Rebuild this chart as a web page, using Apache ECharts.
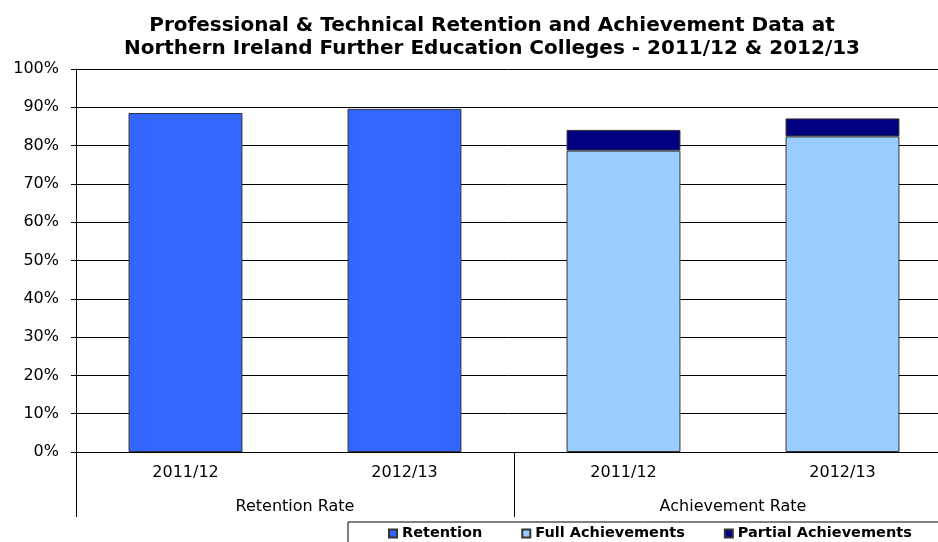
<!DOCTYPE html>
<html lang="en">
<head>
    <meta charset="UTF-8" />
    <title>Retention and Achievement</title>
    <script src="https://cdn.jsdelivr.net/npm/echarts@6/dist/echarts.min.js"></script>
    <style>
        html, body { margin: 0; padding: 0; background: #fff; }
    </style>
</head>
<body>
    <div id="main" style="width: 938px; height: 542px"></div>

    <script>
        // data
        var years = ["2011/12", "2012/13", "2011/12", "2012/13"];
        var groups = ["Retention Rate", "Achievement Rate"];
        var retention = [88.5, 89.6, null, null];
        var fullAch = [null, null, 78.7, 82.4];
        var partialAch = [null, null, 5.4, 4.7];

        var font = "DejaVu Sans";
        var mChart = echarts.init(document.querySelector("#main"));

        var option = {
            animation: false,
            title: {
                text: "Professional & Technical Retention and Achievement Data at\nNorthern Ireland Further Education Colleges - 2011/12 & 2012/13",
                left: 487,
                top: 9,
                textAlign: "center",
                textStyle: { fontFamily: font, fontSize: 20, fontWeight: "bold", color: "#000", lineHeight: 23 },
            },
            legend: {
                left: 348,
                top: 522,
                width: 620,
                padding: [4, 40, 10, 40],
                itemGap: 39,
                itemWidth: 8,
                itemHeight: 8,
                icon: "rect",
                borderColor: "#000",
                borderWidth: 1,
                textStyle: { fontFamily: font, fontSize: 14.5, fontWeight: "bold", color: "#000" },
                data: ["Retention", "Full Achievements", "Partial Achievements"],
            },
            grid: { left: 76, top: 69, width: 876, height: 383, outerBoundsMode: "none" },
            xAxis: [
                {
                    type: "category",
                    data: years,
                    axisLine: { lineStyle: { color: "#000", width: 1 } },
                    axisTick: { show: false },
                    axisLabel: { margin: 13, fontFamily: font, fontSize: 16, color: "#000" },
                },
                {
                    type: "category",
                    data: groups,
                    position: "bottom",
                    axisLine: { show: false },
                    axisTick: { show: true, length: 65, lineStyle: { color: "#000" } },
                    axisLabel: { margin: 47, fontFamily: font, fontSize: 16, color: "#000" },
                },
            ],
            yAxis: {
                type: "value",
                min: 0,
                max: 100,
                interval: 10,
                axisLine: { show: true, lineStyle: { color: "#000" } },
                axisTick: { show: true, length: 5, lineStyle: { color: "#000" } },
                axisLabel: { formatter: "{value}%", margin: 17, fontFamily: font, fontSize: 16, color: "#000" },
                splitLine: { lineStyle: { color: "#000", width: 1 } },
            },
            series: [
                {
                    name: "Retention",
                    type: "bar",
                    stack: "all",
                    barWidth: "52%",
                    data: retention,
                    itemStyle: { color: "#3366FF", borderColor: "#333", borderWidth: 1 },
                },
                {
                    name: "Full Achievements",
                    type: "bar",
                    stack: "all",
                    barWidth: "52%",
                    data: fullAch,
                    itemStyle: { color: "#99CCFF", borderColor: "#333", borderWidth: 1 },
                },
                {
                    name: "Partial Achievements",
                    type: "bar",
                    stack: "all",
                    barWidth: "52%",
                    data: partialAch,
                    itemStyle: { color: "#000080", borderColor: "#333", borderWidth: 1 },
                },
            ],
        };
        mChart.setOption(option);
    </script>
</body>
</html>
